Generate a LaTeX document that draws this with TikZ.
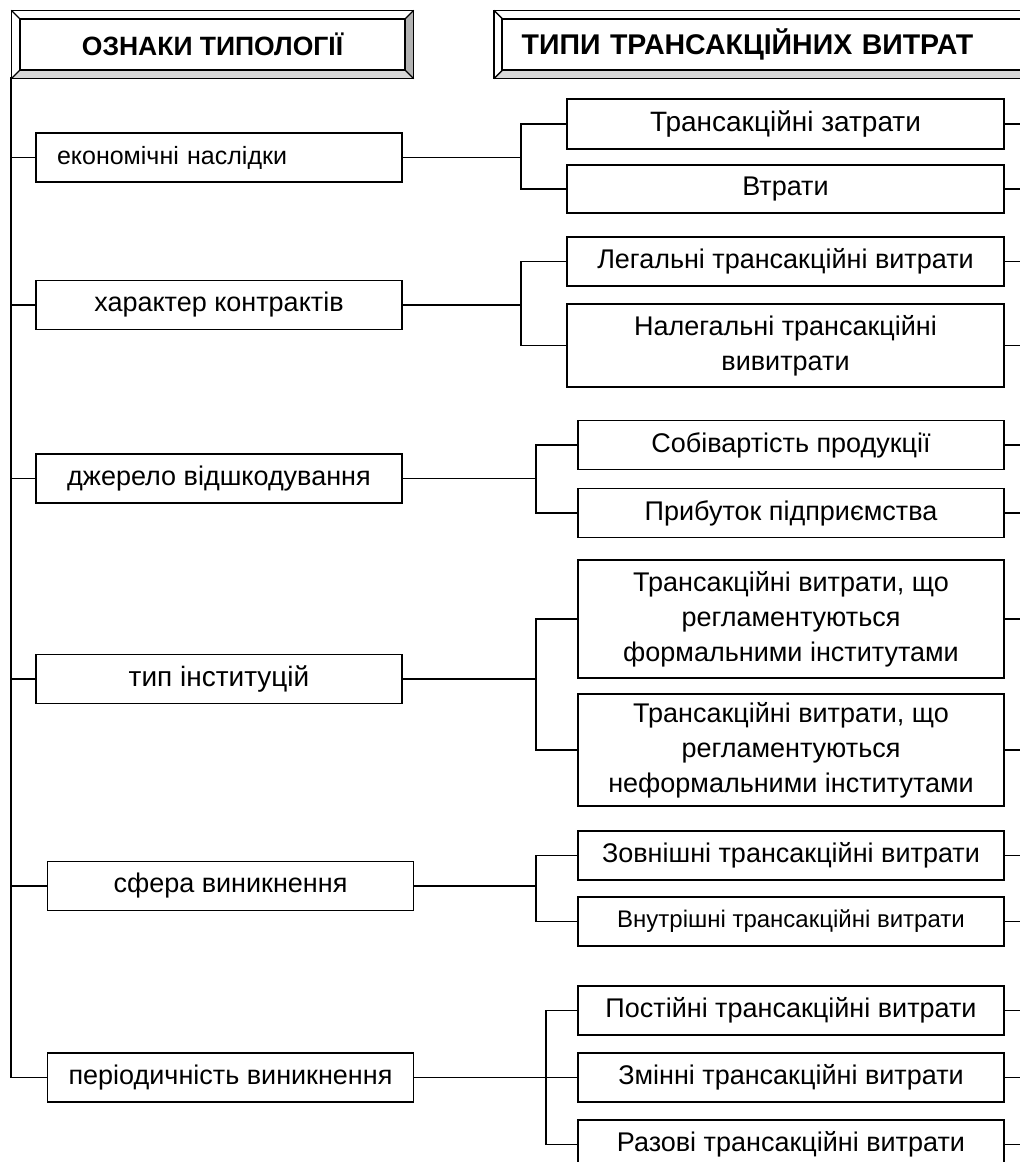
\documentclass[tikz,border=0pt]{standalone}
\usepackage{fontspec}
\setmainfont{Liberation Sans}
\usetikzlibrary{positioning}

\tikzset{
  link/.style={line width=1.4pt},
  head/.style={draw, line width=1.4pt, inner sep=0pt, minimum height=51pt, font=\fontsize{26.5}{30}\selectfont\bfseries},
  sign/.style={draw, line width=1.4pt, inner sep=0pt, minimum width=366pt, minimum height=49pt, font=\fontsize{27}{30}\selectfont},
  kind/.style={draw, line width=1.4pt, inner sep=0pt, align=center, minimum width=426pt, minimum height=49pt, font=\fontsize{27}{35}\selectfont},
}

\begin{document}
\begin{tikzpicture}[x=1pt, y=-1pt]
\useasboundingbox (0,0) rectangle (1020,1162);
\clip (0,0) rectangle (1020,1162);

% headers
\node[head, minimum width=385pt] (ozn) at (212.5,44.5) {ОЗНАКИ ТИПОЛОГІЇ};
\node[head, anchor=west, text width=522pt, inner xsep=19pt, align=left, font=\fontsize{28.5}{30}\selectfont\bfseries] (typy) at (502,44.5) {ТИПИ ТРАНСАКЦІЙНИХ ВИТРАТ};

\foreach \h in {ozn,typy} {
    \fill[gray!60] ([shift={(8,-8)}]\h.north east) -- ([shift={(8,8)}]\h.south east) -- (\h.south east) -- (\h.north east) -- cycle;
    \fill[gray!30] ([shift={(-8,8)}]\h.south west) -- ([shift={(8,8)}]\h.south east) -- (\h.south east) -- (\h.south west) -- cycle;
    \draw[link] ([shift={(-8,-8)}]\h.north west) rectangle ([shift={(8,8)}]\h.south east);
    \draw[link] (\h.north west) rectangle (\h.south east);
    \draw[link] (\h.north west) -- ++(-8,-8) (\h.north east) -- ++(8,-8)
                (\h.south west) -- ++(-8,8) (\h.south east) -- ++(8,8);
}

% signs of typology
\node[sign, text width=324pt, inner xsep=21pt, align=left, font=\fontsize{25}{30}\selectfont] (eko) at (219,157.5) {економічні наслідки};
\node[sign] (khar)   at (219,305)   {характер контрактів};
\node[sign] (dzh)    at (219,478.5) {джерело відшкодування};
\node[sign, font=\fontsize{28}{30}\selectfont] (typ) at (219,679) {тип інституцій};
\node[sign] (sfera)  at (230.5,886) {сфера виникнення};
\node[sign] (period) at (230.5,1077.5) {періодичність виникнення};

% types of costs
\node[kind, minimum width=437pt, minimum height=50pt, font=\fontsize{28}{35}\selectfont] (tz) at (785.5,124) {Трансакційні затрати};
\node[kind, minimum width=437pt, minimum height=48pt] (vtr) at (785.5,189) {Втрати};
\node[kind, minimum width=437pt] (leg) at (785.5,261.5) {Легальні трансакційні витрати};
\node[kind, minimum width=437pt, minimum height=83pt] (neleg) at (785.5,345.5) {Налегальні трансакційні\\вивитрати};
\node[kind] (sob)  at (791,445) {Собівартість продукції};
\node[kind] (prib) at (791,513) {Прибуток підприємства};
\node[kind, minimum height=118pt] (form) at (791,619) {Трансакційні витрати, що\\регламентуються\\формальними інститутами};
\node[kind, minimum height=112pt] (neform) at (791,750) {Трансакційні витрати, що\\регламентуються\\неформальними інститутами};
\node[kind] (zovn)  at (791,855.5) {Зовнішні трансакційні витрати};
\node[kind, font=\fontsize{24}{30}\selectfont] (vnutr) at (791,921.5) {Внутрішні трансакційні витрати};
\node[kind] (post) at (791,1010.5) {Постійні трансакційні витрати};
\node[kind] (zmin) at (791,1077.5) {Змінні трансакційні витрати};
\node[kind] (raz)  at (791,1144.5) {Разові трансакційні витрати};

% trunk
\coordinate (top) at (11,77);
\coordinate (edge) at (1030,0);
\draw[link] (top) |- (period.west);
\foreach \n in {eko,khar,dzh,typ,sfera}
    \draw[link] (\n.west -| top) -- (\n.west);

% brackets
\foreach \l/\a/\b/\x in {eko/tz/vtr/521, khar/leg/neleg/521, dzh/sob/prib/536, typ/form/neform/536, sfera/zovn/vnutr/536} {
    \draw[link] (\l.east) -- (\l.east -| \x,0);
    \draw[link] (\a.west) -- (\a.west -| \x,0) -- (\b.west -| \x,0) -- (\b.west);
}
\draw[link] (period.east) -- (period.east -| 546,0);
\draw[link] (post.west) -- (post.west -| 546,0) -- (raz.west -| 546,0) -- (raz.west);
\draw[link] (zmin.west) -- (zmin.west -| 546,0);

\foreach \n in {tz,vtr,leg,neleg,sob,prib,form,neform,zovn,vnutr,post,zmin,raz}
    \draw[link] (\n.east) -- (\n.east -| edge);
\end{tikzpicture}
\end{document}
